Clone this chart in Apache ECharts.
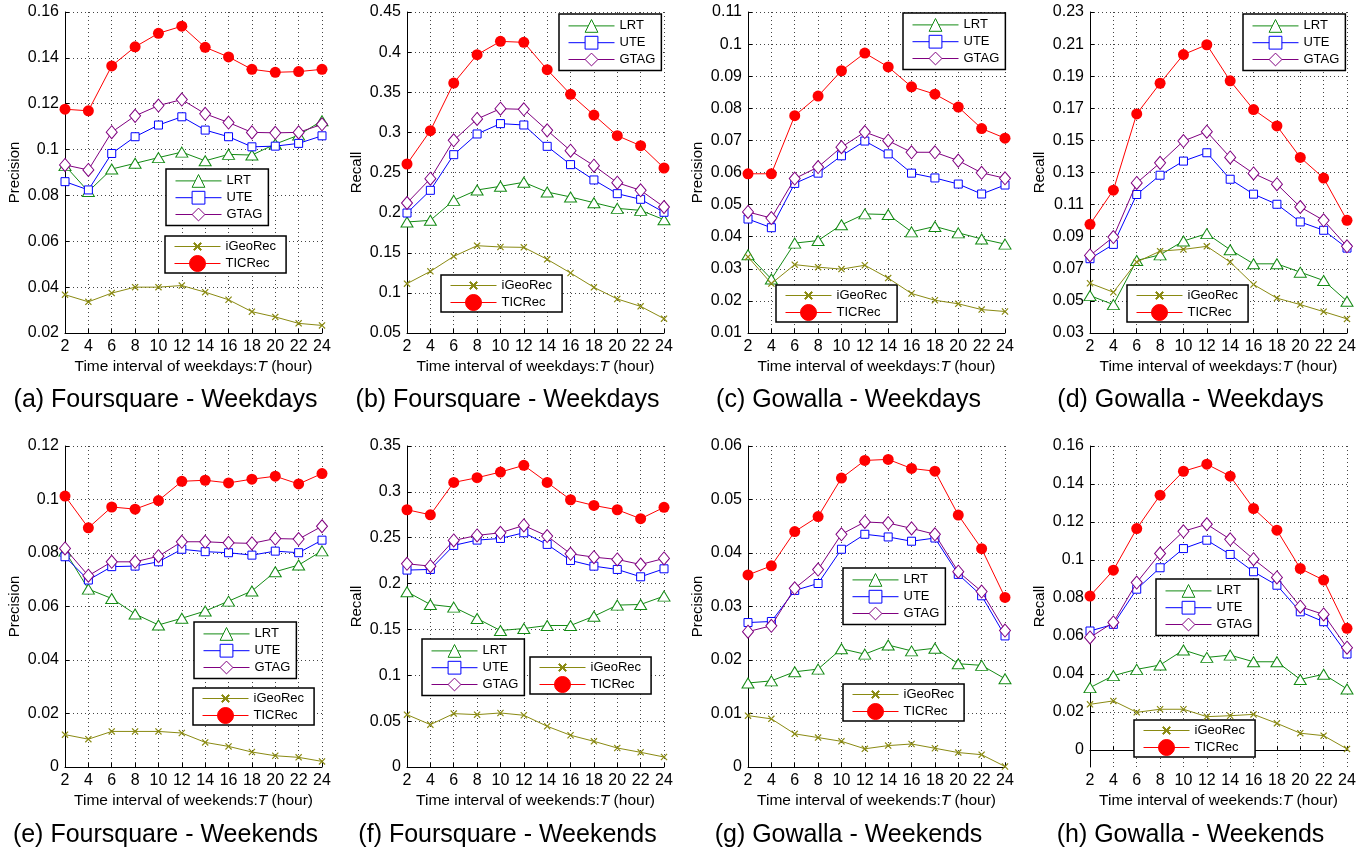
<!DOCTYPE html>
<html>
<head>
<meta charset="utf-8">
<title>TICRec - time interval</title>
<style>
  html, body { margin: 0; padding: 0; background: #fff; }
  #main { width: 1368px; height: 850px; }
</style>
</head>
<body>
<div id="main"></div>
<script src="https://cdn.jsdelivr.net/npm/echarts@6/dist/echarts.min.js"></script>
<script>
// x axis: time interval T (hour)
var hours = [2, 4, 6, 8, 10, 12, 14, 16, 18, 20, 22, 24];
var methods = ['LRT', 'UTE', 'GTAG', 'iGeoRec', 'TICRec'];

// (a) Foursquare - Weekdays, Precision
var aLRT  = [0.0930, 0.0817, 0.0915, 0.0940, 0.0965, 0.0989, 0.0951, 0.0979, 0.0976, 0.1024, 0.1063, 0.1126];
var aUTE  = [0.0860, 0.0824, 0.0983, 0.1056, 0.1107, 0.1143, 0.1085, 0.1056, 0.1012, 0.1015, 0.1027, 0.1060];
var aGTAG = [0.0933, 0.0911, 0.1076, 0.1147, 0.1192, 0.1218, 0.1156, 0.1118, 0.1075, 0.1073, 0.1075, 0.1110];
var aIGeo = [0.0367, 0.0336, 0.0374, 0.0400, 0.0400, 0.0407, 0.0378, 0.0345, 0.0293, 0.0270, 0.0242, 0.0233];
var aTIC  = [0.1176, 0.1169, 0.1365, 0.1448, 0.1507, 0.1538, 0.1446, 0.1404, 0.1350, 0.1337, 0.1340, 0.1350];

// (b) Foursquare - Weekdays, Recall
var bLRT  = [0.1883, 0.1904, 0.2153, 0.2282, 0.2328, 0.2378, 0.2257, 0.2195, 0.2124, 0.2053, 0.2028, 0.1912];
var bUTE  = [0.1995, 0.2278, 0.2722, 0.2980, 0.3109, 0.3092, 0.2826, 0.2598, 0.2407, 0.2236, 0.2166, 0.2004];
var bGTAG = [0.2120, 0.2423, 0.2901, 0.3167, 0.3295, 0.3287, 0.3025, 0.2772, 0.2585, 0.2373, 0.2278, 0.2070];
var bIGeo = [0.1115, 0.1268, 0.1455, 0.1588, 0.1572, 0.1567, 0.1418, 0.1248, 0.1069, 0.0924, 0.0832, 0.0679];
var bTIC  = [0.2606, 0.3021, 0.3615, 0.3968, 0.4134, 0.4122, 0.3781, 0.3474, 0.3216, 0.2959, 0.2834, 0.2556];

// (c) Gowalla - Weekdays, Precision
var cLRT  = [0.0344, 0.0268, 0.0380, 0.0388, 0.0437, 0.0471, 0.0469, 0.0415, 0.0432, 0.0412, 0.0393, 0.0377];
var cUTE  = [0.0455, 0.0428, 0.0566, 0.0598, 0.0652, 0.0698, 0.0658, 0.0598, 0.0583, 0.0564, 0.0533, 0.0561];
var cGTAG = [0.0477, 0.0458, 0.0581, 0.0617, 0.0679, 0.0726, 0.0699, 0.0663, 0.0663, 0.0637, 0.0599, 0.0582];
var cIGeo = [0.0337, 0.0254, 0.0313, 0.0305, 0.0299, 0.0311, 0.0271, 0.0223, 0.0202, 0.0191, 0.0173, 0.0167];
var cTIC  = [0.0596, 0.0596, 0.0777, 0.0838, 0.0917, 0.0972, 0.0929, 0.0867, 0.0844, 0.0804, 0.0737, 0.0707];

// (d) Gowalla - Weekdays, Recall
var dLRT  = [0.0533, 0.0477, 0.0752, 0.0787, 0.0873, 0.0919, 0.0819, 0.0731, 0.0731, 0.0679, 0.0627, 0.0498];
var dUTE  = [0.0763, 0.0852, 0.1163, 0.1283, 0.1371, 0.1423, 0.1258, 0.1165, 0.1102, 0.0992, 0.0940, 0.0829];
var dGTAG = [0.0783, 0.0898, 0.1235, 0.1360, 0.1496, 0.1554, 0.1394, 0.1294, 0.1227, 0.1085, 0.1002, 0.0840];
var dIGeo = [0.0610, 0.0554, 0.0742, 0.0810, 0.0821, 0.0840, 0.0742, 0.0602, 0.0517, 0.0477, 0.0433, 0.0388];
var dTIC  = [0.0977, 0.1190, 0.1665, 0.1856, 0.2035, 0.2096, 0.1871, 0.1692, 0.1590, 0.1394, 0.1265, 0.1002];

// (e) Foursquare - Weekends, Precision
var eLRT  = [0.0807, 0.0665, 0.0630, 0.0572, 0.0531, 0.0556, 0.0583, 0.0620, 0.0658, 0.0730, 0.0755, 0.0808];
var eUTE  = [0.0786, 0.0699, 0.0749, 0.0751, 0.0767, 0.0814, 0.0805, 0.0801, 0.0792, 0.0807, 0.0801, 0.0848];
var eGTAG = [0.0817, 0.0715, 0.0767, 0.0767, 0.0788, 0.0842, 0.0842, 0.0838, 0.0836, 0.0854, 0.0852, 0.0900];
var eIGeo = [0.0121, 0.0104, 0.0133, 0.0133, 0.0133, 0.0127, 0.0092, 0.0077, 0.0056, 0.0042, 0.0036, 0.0021];
var eTIC  = [0.1013, 0.0894, 0.0972, 0.0964, 0.0996, 0.1068, 0.1072, 0.1062, 0.1076, 0.1087, 0.1058, 0.1097];

// (f) Foursquare - Weekends, Recall
var fLRT  = [0.1910, 0.1772, 0.1743, 0.1619, 0.1488, 0.1510, 0.1543, 0.1543, 0.1644, 0.1765, 0.1772, 0.1863];
var fUTE  = [0.2147, 0.2154, 0.2416, 0.2474, 0.2492, 0.2554, 0.2427, 0.2252, 0.2190, 0.2154, 0.2074, 0.2161];
var fGTAG = [0.2216, 0.2190, 0.2470, 0.2525, 0.2554, 0.2634, 0.2518, 0.2325, 0.2288, 0.2263, 0.2208, 0.2274];
var fIGeo = [0.0571, 0.0462, 0.0582, 0.0571, 0.0589, 0.0564, 0.0444, 0.0346, 0.0280, 0.0207, 0.0160, 0.0109];
var fTIC  = [0.2805, 0.2750, 0.3103, 0.3154, 0.3216, 0.3289, 0.3103, 0.2914, 0.2852, 0.2805, 0.2707, 0.2831];

// (g) Gowalla - Weekends, Precision
var gLRT  = [0.0157, 0.0161, 0.0178, 0.0183, 0.0221, 0.0211, 0.0228, 0.0217, 0.0222, 0.0193, 0.0190, 0.0165];
var gUTE  = [0.0270, 0.0272, 0.0330, 0.0343, 0.0407, 0.0435, 0.0430, 0.0422, 0.0428, 0.0360, 0.0320, 0.0245];
var gGTAG = [0.0253, 0.0264, 0.0334, 0.0369, 0.0435, 0.0458, 0.0456, 0.0446, 0.0435, 0.0365, 0.0328, 0.0255];
var gIGeo = [0.0096, 0.0090, 0.0062, 0.0055, 0.0048, 0.0034, 0.0040, 0.0043, 0.0035, 0.0027, 0.0023, 0.0001];
var gTIC  = [0.0359, 0.0376, 0.0440, 0.0468, 0.0540, 0.0573, 0.0575, 0.0558, 0.0553, 0.0471, 0.0408, 0.0317];

// (h) Gowalla - Weekends, Recall
var hLRT  = [0.0328, 0.0391, 0.0424, 0.0447, 0.0526, 0.0487, 0.0499, 0.0464, 0.0464, 0.0371, 0.0398, 0.0321];
var hUTE  = [0.0626, 0.0661, 0.0846, 0.0959, 0.1060, 0.1104, 0.1029, 0.0938, 0.0867, 0.0727, 0.0675, 0.0505];
var hGTAG = [0.0592, 0.0671, 0.0881, 0.1034, 0.1151, 0.1188, 0.1109, 0.1004, 0.0908, 0.0754, 0.0713, 0.0538];
var hIGeo = [0.0240, 0.0258, 0.0198, 0.0214, 0.0214, 0.0175, 0.0180, 0.0187, 0.0140, 0.0088, 0.0075, 0.0005];
var hTIC  = [0.0810, 0.0946, 0.1165, 0.1341, 0.1467, 0.1504, 0.1441, 0.1271, 0.1157, 0.0955, 0.0894, 0.0640];

// y tick labels of each panel
var ticksA = [0.02, 0.04, 0.06, 0.08, 0.1, 0.12, 0.14, 0.16];
var ticksB = [0.05, 0.1, 0.15, 0.2, 0.25, 0.3, 0.35, 0.4, 0.45];
var ticksC = [0.01, 0.02, 0.03, 0.04, 0.05, 0.06, 0.07, 0.08, 0.09, 0.1, 0.11];
var ticksD = [0.03, 0.05, 0.07, 0.09, 0.11, 0.13, 0.15, 0.17, 0.19, 0.21, 0.23];
var ticksE = [0, 0.02, 0.04, 0.06, 0.08, 0.1, 0.12];
var ticksF = [0, 0.05, 0.1, 0.15, 0.2, 0.25, 0.3, 0.35];
var ticksG = [0, 0.01, 0.02, 0.03, 0.04, 0.05, 0.06];
var ticksH = [0, 0.02, 0.04, 0.06, 0.08, 0.1, 0.12, 0.14, 0.16];

var captions = ['(a) Foursquare - Weekdays', '(b) Foursquare - Weekdays', '(c) Gowalla - Weekdays', '(d) Gowalla - Weekdays',
                '(e) Foursquare - Weekends', '(f) Foursquare - Weekends', '(g) Gowalla - Weekends', '(h) Gowalla - Weekends'];

// panel layout (plot area in px) and legend box positions
var panels = [
  {data: [aLRT, aUTE, aGTAG, aIGeo, aTIC], ticks: ticksA, yName: 'Precision', x: 65,   y: 12,  l1: [166, 169],  l2: [165, 236]},
  {data: [bLRT, bUTE, bGTAG, bIGeo, bTIC], ticks: ticksB, yName: 'Recall',    x: 407,  y: 12,  l1: [559, 14],   l2: [441, 275]},
  {data: [cLRT, cUTE, cGTAG, cIGeo, cTIC], ticks: ticksC, yName: 'Precision', x: 748,  y: 12,  l1: [903, 13],   l2: [776, 285]},
  {data: [dLRT, dUTE, dGTAG, dIGeo, dTIC], ticks: ticksD, yName: 'Recall',    x: 1090, y: 12,  l1: [1243, 14],  l2: [1127, 285]},
  {data: [eLRT, eUTE, eGTAG, eIGeo, eTIC], ticks: ticksE, yName: 'Precision', x: 65,   y: 446, l1: [194, 622],  l2: [193, 688]},
  {data: [fLRT, fUTE, fGTAG, fIGeo, fTIC], ticks: ticksF, yName: 'Recall',    x: 407,  y: 446, l1: [422, 639],  l2: [530, 657]},
  {data: [gLRT, gUTE, gGTAG, gIGeo, gTIC], ticks: ticksG, yName: 'Precision', x: 748,  y: 446, l1: [843, 568],  l2: [843, 684]},
  {data: [hLRT, hUTE, hGTAG, hIGeo, hTIC], ticks: ticksH, yName: 'Recall',    x: 1090, y: 446, l1: [1156, 579], l2: [1134, 720], yMin: -0.009}
];
var plotW = 257, plotH = 321;

var FONT = '"Liberation Sans", Arial, Helvetica, sans-serif';
// 'x' marker; the empty corner points pad the box so the cross is half the symbol size
var crossPath = 'path://M0,0 L0,0 M2,2 L2,2 M0.5,0.62 L0.62,0.5 L1,0.88 L1.38,0.5 L1.5,0.62 L1.12,1 ' +
                'L1.5,1.38 L1.38,1.5 L1,1.12 L0.62,1.5 L0.5,1.38 L0.88,1 Z';

// style of each method: colour, marker, hollow or not
var looks = {
  LRT:     {color: '#138a13', symbol: 'triangle', size: [12, 10], hollow: true},
  UTE:     {color: '#0000ff', symbol: 'rect',     size: 8,        hollow: true},
  GTAG:    {color: '#800080', symbol: 'diamond',  size: [11, 13], hollow: true},
  iGeoRec: {color: '#8a8a12', symbol: crossPath,  size: 14,       hollow: false},
  TICRec:  {color: '#ff0000', symbol: 'circle',   size: 11,       hollow: false}
};

var grids = [], xAxes = [], yAxes = [], series = [], legends = [], graphics = [];
var gridLine = {type: [1, 3], color: '#444', width: 1};

panels.forEach(function (p, i) {
  grids.push({left: p.x, top: p.y, width: plotW, height: plotH});
  var weekPart = i < 4 ? 'weekdays' : 'weekends';
  xAxes.push({
    gridIndex: i, type: 'value', min: 2, max: 24, interval: 2,
    axisLine: {lineStyle: {color: '#000', width: 1}},
    axisTick: {inside: true, length: 4, lineStyle: {color: '#000'}},
    axisLabel: {color: '#000', fontSize: 16, margin: 6, fontFamily: FONT},
    splitLine: {show: true, lineStyle: gridLine},
    name: 'Time interval of ' + weekPart + ':{i|T} (hour)',
    nameLocation: 'middle', nameGap: 26,
    nameTextStyle: {color: '#000', fontSize: 15.5, fontFamily: FONT,
      rich: {i: {fontStyle: 'italic', fontSize: 15.5, fontFamily: FONT, color: '#000'}}}
  });
  yAxes.push({
    gridIndex: i, type: 'value',
    min: p.yMin !== undefined ? p.yMin : p.ticks[0],
    max: p.ticks[p.ticks.length - 1],
    axisLine: {show: true, lineStyle: {color: '#000', width: 1}},
    axisTick: {show: true, inside: true, length: 4, lineStyle: {color: '#000'}, customValues: p.ticks},
    axisLabel: {color: '#000', fontSize: 16, margin: 6, fontFamily: FONT, customValues: p.ticks},
    splitLine: {show: true, lineStyle: gridLine},
    name: p.yName, nameLocation: 'middle', nameGap: 43,
    nameTextStyle: {color: '#000', fontSize: 15, fontFamily: FONT}
  });
  methods.forEach(function (m, k) {
    var lk = looks[m];
    series.push({
      type: 'line', name: m, xAxisIndex: i, yAxisIndex: i,
      data: hours.map(function (h, j) { return [h, p.data[k][j]]; }),
      symbol: lk.symbol, symbolSize: lk.size, showSymbol: true,
      lineStyle: {color: lk.color, width: 1},
      itemStyle: lk.hollow
        ? {color: '#fff', borderColor: lk.color, borderWidth: 1}
        : {color: lk.color, borderColor: lk.color, borderWidth: 0},
      emphasis: {disabled: true},
      clip: false, silent: true, z: 2 + k
    });
  });
  var legendBase = {
    orient: 'vertical', itemWidth: 46, backgroundColor: '#fff',
    borderColor: '#000', borderWidth: 1.5, borderRadius: 0,
    textStyle: {color: '#000', fontSize: 13, fontFamily: FONT},
    itemStyle: {borderWidth: 1},
    lineStyle: {width: 1},
    selectedMode: false
  };
  legends.push(Object.assign({}, legendBase, {
    left: p.l1[0], top: p.l1[1], data: ['LRT', 'UTE', 'GTAG'],
    itemHeight: 16, itemGap: 3, padding: [5, 6, 4, 9]
  }));
  legends.push(Object.assign({}, legendBase, {
    left: p.l2[0], top: p.l2[1], data: ['iGeoRec', 'TICRec'],
    itemHeight: 20, itemGap: 0, padding: [2, 10, 1, 9]
  }));
  graphics.push({
    type: 'text', x: p.x + plotW / 2 - 28, y: i < 4 ? 400 : 835,
    style: {text: captions[i], fill: '#000', font: '25px ' + FONT, textAlign: 'center', textVerticalAlign: 'middle'}
  });
});

var chart = echarts.init(document.getElementById('main'), null, {renderer: 'canvas'});
chart.setOption({
  animation: false,
  backgroundColor: '#fff',
  grid: grids,
  xAxis: xAxes,
  yAxis: yAxes,
  legend: legends,
  graphic: graphics,
  series: series
});
</script>
</body>
</html>
